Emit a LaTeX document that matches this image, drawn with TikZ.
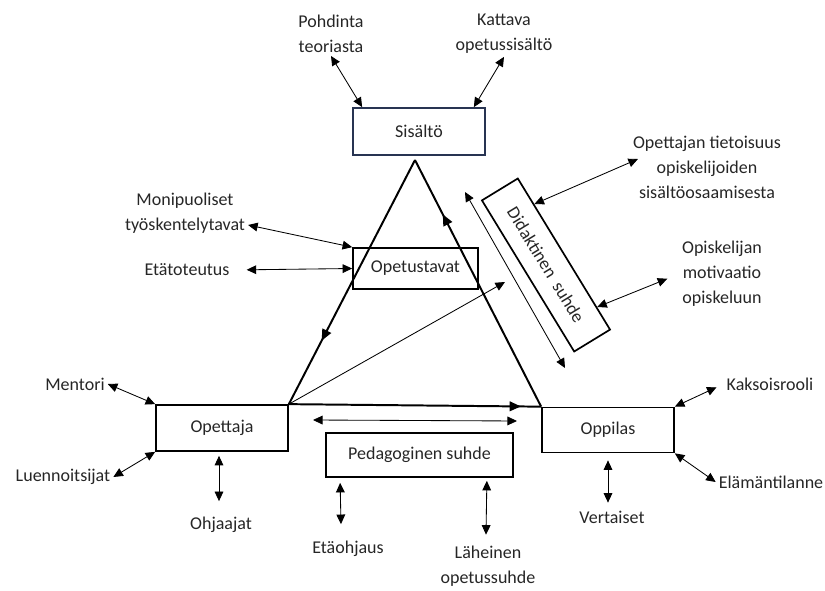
\documentclass[tikz,border=0pt]{standalone}
\usepackage{fontspec}
\setmainfont{Carlito}
\usepackage{tikz}
\usetikzlibrary{arrows.meta,calc,decorations.markings}
\definecolor{boxnavy}{RGB}{40,52,82}
\tikzset{
  >={Triangle[length=6.8pt,width=6.2pt]},
  es/.style={<->, line width=0.6pt},
  box/.style={draw, line width=1.2pt, inner sep=0pt, text=black!85},
  lbl/.style={align=center, text=black!85, inner sep=2pt},
  side/.style={line width=1.4pt, postaction={decorate},
    decoration={markings, mark=at position #1 with {\arrow{Triangle[length=8pt,width=6.8pt]}}}}
}

\begin{document}
\begin{tikzpicture}[x=0.025cm,y=-0.025cm,font=\fontsize{12.8}{17.8}\selectfont]
			\useasboundingbox (0,0) rectangle (825,591);
			% boxes
			\node[box, draw=boxnavy, minimum width=3.3cm, minimum height=1.175cm] (sisalto) at (419,131.5) {Sisältö};
			\node[box, minimum width=3.125cm, minimum height=1.025cm] (opetustavat) at (415.5,268.5) {Opetustavat};
			\node[box, minimum width=3.3cm, minimum height=1.15cm] (opettaja) at (222,428) {Opettaja};
			\node[box, minimum width=3.3cm, minimum height=1.125cm] (oppilas) at (608,430) {Oppilas};
			\node[box, minimum width=4.675cm, minimum height=1.1cm] (pedagoginen) at (419.5,455) {Pedagoginen suhde};
			\node[box, minimum width=4.425cm, minimum height=1.05cm, rotate=-58.6] (didaktinen) at (546,265) {Didaktinen\ \ suhde};
			% labels
			\node[lbl] (pohdinta) at (331,34) {Pohdinta\\teoriasta};
			\node[lbl] (kattava) at (504,34) {Kattava\\opetussisältö};
			\node[lbl] (monipuoliset) at (185,213) {Monipuoliset\\työskentelytavat};
			\node[lbl] (etatoteutus) at (187,270) {Etätoteutus};
			\node[lbl] (tietoisuus) at (707,167) {Opettajan tietoisuus\\opiskelijoiden\\sisältöosaamisesta};
			\node[lbl] (motivaatio) at (722,274) {Opiskelijan\\motivaatio\\opiskeluun};
			\node[lbl] (mentori) at (75,384) {Mentori};
			\node[lbl] (luennoitsijat) at (63,477) {Luennoitsijat};
			\node[lbl] (ohjaajat) at (221,525) {Ohjaajat};
			\node[lbl] (etaohjaus) at (348,549) {Etäohjaus};
			\node[lbl] (laheinen) at (488,566) {Läheinen\\opetussuhde};
			\node[lbl] (vertaiset) at (612,517) {Vertaiset};
			\node[lbl] (kaksoisrooli) at (770,384) {Kaksoisrooli};
			\node[lbl] (elamantilanne) at (771,482) {Elämäntilanne};
			% triangle
			\coordinate (apex) at (415,160);
			\draw[side=0.74] (apex) -- (opettaja.north east);
			\draw[side=0.92] (opettaja.north east) -- (oppilas.north west);
			\draw[side=0.78] (oppilas.north west) -- (apex);
			% free ends
			\coordinate (diagtip) at (505,282);
			\coordinate (dtop) at (465,192);
			\coordinate (dbot) at (565,368);
			\coordinate (pleft) at (313,420);
			\coordinate (pright) at (517,421);
			% thin arrows
			\draw[->, line width=0.6pt] (opettaja.north east) -- (diagtip);
			\draw[es] (dtop) -- (dbot);
			\draw[es] (pleft) -- (pright);
			\draw[es] (pohdinta.south) -- ($(sisalto.north west)+(10,0)$);
			\draw[es] (kattava.south) -- ($(sisalto.north east)+(-12,0)$);
			\draw[es] ($(monipuoliset.east)+(0,12)$) -- (opetustavat.north west);
			\draw[es, shorten <=10pt] (etatoteutus.east) -- (opetustavat.west);
			\draw[es] ($(didaktinen.north west)!0.35!(didaktinen.north)$) -- ($(tietoisuus.west)+(8,-8)$);
			\draw[es, shorten >=9pt] ($(didaktinen.north)!0.7!(didaktinen.north east)$) -- (motivaatio.west);
			\draw[es] (mentori.east) -- (opettaja.north west);
			\draw[es] (luennoitsijat.east) -- (opettaja.south west);
			\draw[es] ($(opettaja.south)+(-3,4)$) -- ($(ohjaajat.north)+(-2,-13)$);
			\draw[es] ($(pedagoginen.south west)+(15,5)$) -- ($(etaohjaus.north)+(-7,-14)$);
			\draw[es] ($(pedagoginen.south east)+(-27,3)$) -- ($(laheinen.north)+(-2,-8)$);
			\draw[es] ($(oppilas.south)+(0,7)$) -- ($(vertaiset.north)+(-4,-5)$);
			\draw[es, shorten >=5.5pt] (oppilas.north east) -- (kaksoisrooli.west);
			\draw[es] (oppilas.south east) -- (elamantilanne.west);
		\end{tikzpicture}
\end{document}
